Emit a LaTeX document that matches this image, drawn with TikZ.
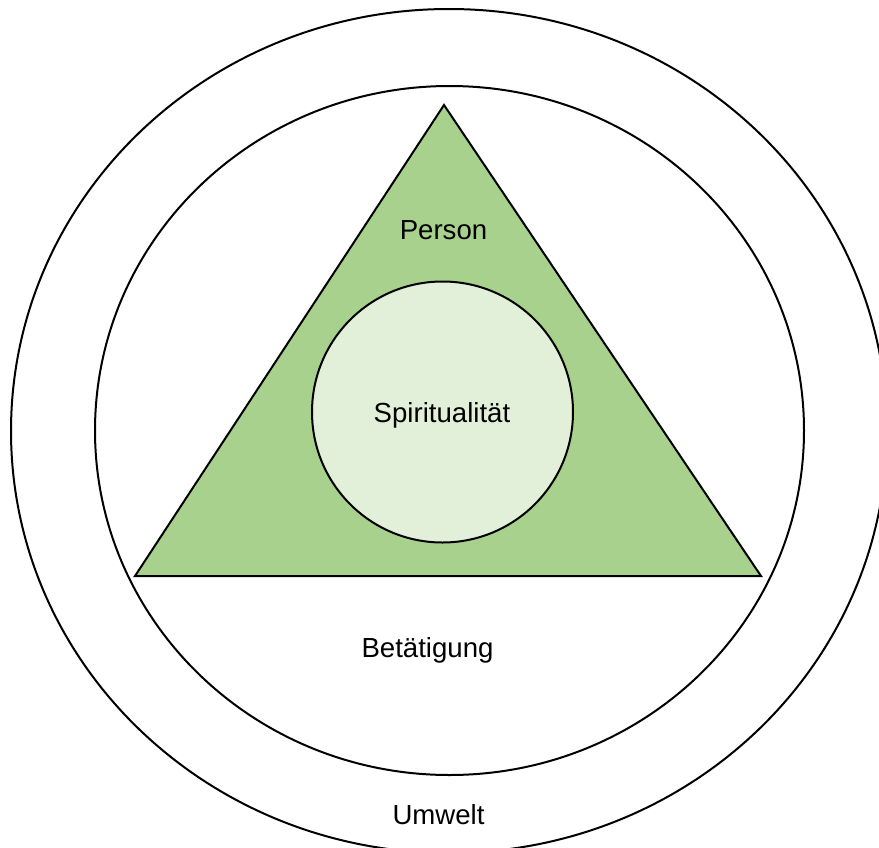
\documentclass[tikz,border=0pt]{standalone}
\usepackage{fontspec}
\setmainfont{Liberation Sans}
\usetikzlibrary{shapes.geometric}

\definecolor{persongreen}{RGB}{169,209,142}
\definecolor{spiritgreen}{RGB}{226,239,217}

\begin{document}
\begin{tikzpicture} [
	   x=0.5pt, y=-0.5pt,
	   ring/.style     = { draw, ellipse, line width=1pt, inner sep=0pt },
	   core/.style     = { draw, circle, fill=spiritgreen, line width=1pt, inner sep=0pt, minimum size=130.5pt },
	   txt/.style      = { anchor=base, inner sep=0pt, font=\fontsize{13.8}{16}\selectfont },
	 ]
	  \useasboundingbox (0,0) rectangle (879,847);

	  % rings for environment and occupation
	  \node [ring, minimum width=438pt, minimum height=422pt] (umwelt) at (449,431) {};
	  \node [ring, minimum width=354.5pt, minimum height=344.5pt] (betaetigung) at (449.5,430.5) {};

	  % person triangle
	  \coordinate (apex) at (444,105);
	  \coordinate (baseL) at (135,576);
	  \coordinate (baseR) at (761,576);
	  \path [fill=persongreen, draw=black, line width=1pt, line join=miter] (apex) -- (baseL) -- (baseR) -- cycle;

	  % spirituality at the core
	  \node [core] (spirit) at (442.5,412) {};

	  % labels
	  \node [txt] (lperson) at (443.5,239) {Person};
	  \node [txt] (lspirit) at (442,422) {Spiritualität};
	  \node [txt] (lbetaet) at (427.5,657) {Betätigung};
	  \node [txt] (lumwelt) at (438.5,824) {Umwelt};
\end{tikzpicture}
\end{document}
